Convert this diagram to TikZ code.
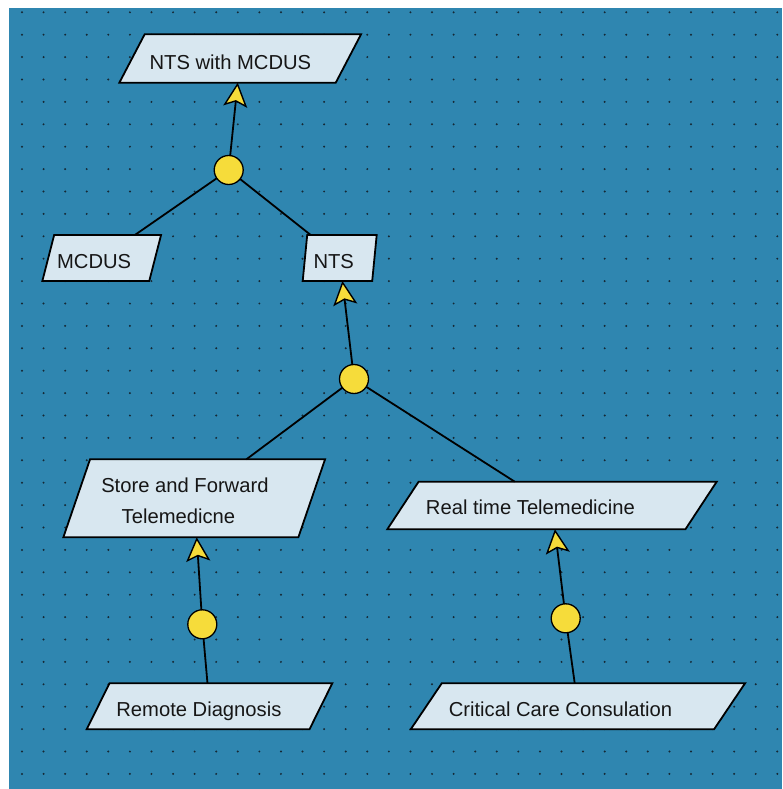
\documentclass[tikz,border=0pt]{standalone}
\usepackage{fontspec}
\setmainfont{Liberation Sans}
\usetikzlibrary{arrows.meta}
\definecolor{bgblue}{RGB}{47,134,176}
\definecolor{boxfill}{RGB}{216,231,240}
\definecolor{goalyellow}{RGB}{246,220,58}
\definecolor{dotcol}{RGB}{22,40,52}
\definecolor{txtcol}{RGB}{22,22,22}
\tikzset{
  paragoal/.style={rectangle, draw=none, fill=none, inner sep=0pt, outer sep=0pt},
  boxline/.style={draw=black, line width=1.8pt, fill=boxfill, line join=miter},
  goaltext/.style={anchor=base, inner sep=0pt, text=txtcol, font=\fontsize{20.2}{24}\selectfont},
  decomp/.style={circle, draw=black, line width=1.3pt, fill=goalyellow, minimum size=29pt, inner sep=0pt, outer sep=0pt},
  conn/.style={draw=black, line width=1.8pt},
  contrib/.style={conn, -{Stealth[length=24pt, width=24pt, inset=5pt, fill=goalyellow, line width=1.4pt]}}
}
\newcommand{\paraoutline}[2]{%
  \draw[boxline] ([xshift=#2pt]#1.north west) -- (#1.north east) -- ([xshift=-#2pt]#1.south east) -- (#1.south west) -- cycle;}
\begin{document}
\begin{tikzpicture}[x=1pt,y=-1pt]
\useasboundingbox (0,0) rectangle (782,789);
\fill[white] (0,0) rectangle (782,789);
\fill[bgblue] (9,8) rectangle (782,789);
\foreach \i in {0,...,35}{
  \foreach \j in {0,...,34}{
    \fill[dotcol] ({22+21.58*\i},{12.3+22.4*\j}) circle (1.1);
  }
}
% goal boxes
\node[paragoal, minimum width=241.7pt, minimum height=48.4pt] (b1) at (240.2,58.5) {};
\paraoutline{b1}{25.3}
\node[paragoal, minimum width=118.7pt, minimum height=46pt] (b2) at (101.7,258) {};
\paraoutline{b2}{11.8}
\node[paragoal, minimum width=74pt, minimum height=46pt] (b3) at (339.7,258) {};
\paraoutline{b3}{4.5}
\node[paragoal, minimum width=261.7pt, minimum height=78pt] (b4) at (194.2,498.3) {};
\paraoutline{b4}{26.7}
\node[paragoal, minimum width=329.4pt, minimum height=47.6pt] (b5) at (552,505.5) {};
\paraoutline{b5}{31.3}
\node[paragoal, minimum width=245.6pt, minimum height=46pt] (b6) at (209.5,706.3) {};
\paraoutline{b6}{22.8}
\node[paragoal, minimum width=334.3pt, minimum height=46pt] (b7) at (577.9,706.3) {};
\paraoutline{b7}{31}
% texts
\node[goaltext] (t1) at (230.4,69.5) {NTS with MCDUS};
\node[goaltext] (t2) at (94.2,268.3) {MCDUS};
\node[goaltext] (t3) at (333.7,268.3) {NTS};
\node[goaltext] (t4a) at (184.9,492.7) {Store and Forward};
\node[goaltext] (t4b) at (178.4,523.3) {Telemedicne};
\node[goaltext] (t5) at (530.4,514) {Real time Telemedicine};
\node[goaltext] (t6) at (198.9,716.7) {Remote Diagnosis};
\node[goaltext] (t7) at (560.5,716.7) {Critical Care Consulation};
% decomposition circles
\node[decomp] (c1) at (228.7,170) {};
\node[decomp] (c2) at (354,379) {};
\node[decomp] (c3) at (202.3,624.3) {};
\node[decomp] (c4) at (565.7,618.3) {};
% connectors
\draw[conn] (c1) -- (b2);
\draw[conn] (c1) -- (b3);
\draw[contrib] (c1) -- (b1);
\draw[conn] (c2) -- (b4);
\draw[conn] (c2) -- (b5);
\draw[contrib] (c2) -- (b3);
\draw[conn] (c3) -- (b6);
\draw[contrib] (c3) -- (b4);
\draw[conn] (c4) -- (b7);
\draw[contrib] (c4) -- (b5);
\end{tikzpicture}
\end{document}
